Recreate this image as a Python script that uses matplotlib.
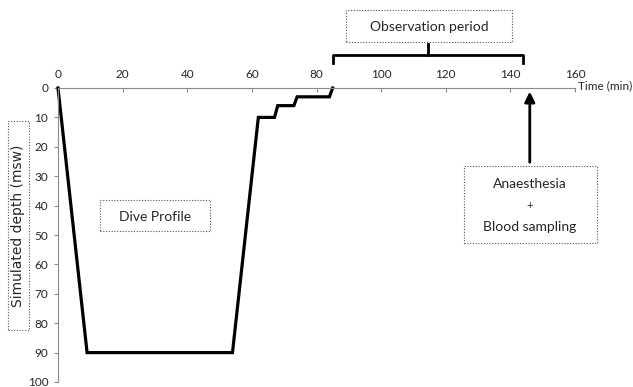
import matplotlib
matplotlib.use("Agg")
import matplotlib.pyplot as plt
from matplotlib.patches import Rectangle
from matplotlib.lines import Line2D

# Data
time_min = [0, 9, 54, 62, 67, 68, 73, 74, 84, 85]
depth_msw = [0, 90, 90, 10, 10, 6, 6, 3, 3, 0]
x_ticks = [0, 20, 40, 60, 80, 100, 120, 140, 160]
y_ticks = [0, 10, 20, 30, 40, 50, 60, 70, 80, 90, 100]
obs_start, obs_end = 85, 144
sampling_time = 146

W, H = 633, 387
fig = plt.figure(figsize=(W / 100, H / 100), dpi=100)
plt.rcParams['font.family'] = ['Lato', 'DejaVu Sans']
TXT = '#262626'
AX = '#8c8c8c'

def fx(x):
    return x / W

def fy(y):
    return 1 - y / H

left, right, top, bottom = 58, 575, 88, 382
ax = fig.add_axes([fx(left), fy(bottom), fx(right) - fx(left), fy(top) - fy(bottom)])
ax.plot(time_min, depth_msw, color='black', lw=2.3, solid_joinstyle='miter', clip_on=False)
ax.set_xlim(0, 160)
ax.set_ylim(100, 0)
ax.set_xticks(x_ticks)
ax.set_yticks(y_ticks)
ax.xaxis.tick_top()
ax.tick_params(axis='x', direction='in', length=3, color=AX, labelsize=8.5, labelcolor=TXT, pad=6)
ax.tick_params(axis='y', direction='out', length=3, color=AX, labelsize=8.5, labelcolor=TXT, pad=4)
for s in ['bottom', 'right']:
    ax.spines[s].set_visible(False)
for s in ['top', 'left']:
    ax.spines[s].set_color(AX)
    ax.spines[s].set_linewidth(0.8)
ax.patch.set_visible(False)

# x-axis title
fig.text(fx(578), fy(86), 'Time (min)', ha='left', va='center', fontsize=8.5, color=TXT)

# y-axis title with dotted box
fig.text(fx(18), fy(226), 'Simulated depth (msw)', rotation=90, ha='center', va='center',
         fontsize=10, color=TXT, family=['DejaVu Sans'])
def dotted_box(x0, y0, x1, y1):
    fig.patches.append(Rectangle((fx(x0), fy(y1)), fx(x1) - fx(x0), fy(y0) - fy(y1),
                                 transform=fig.transFigure, fill=False, ls=(0, (1, 1.5)),
                                 lw=0.8, ec='#555555'))
dotted_box(8, 121, 29, 330)

# Observation period bracket
by_top, by_bot = -11.2, -8.5
ax.add_line(Line2D([obs_start, obs_start, obs_end, obs_end], [by_bot, by_top, by_top, by_bot],
                   color='black', lw=2, clip_on=False))
mid = (obs_start + obs_end) / 2
ax.add_line(Line2D([mid, mid], [by_top, -14.8], color='black', lw=2, clip_on=False))
dotted_box(346, 10, 512, 42)
fig.text(fx(429), fy(27), 'Observation period', ha='center', va='center', fontsize=10, color=TXT)

# Arrow for anaesthesia
ax.annotate('', xy=(sampling_time, 0.3), xytext=(sampling_time, 26.2),
            arrowprops=dict(arrowstyle='-|>,head_length=0.6,head_width=0.3', color='black', lw=2),
            annotation_clip=False)
dotted_box(464, 166, 597, 243)
fig.text(fx(530), fy(184), 'Anaesthesia', ha='center', va='center', fontsize=10, color=TXT)
fig.text(fx(530), fy(205), '+', ha='center', va='center', fontsize=8, color=TXT)
fig.text(fx(530), fy(227), 'Blood sampling', ha='center', va='center', fontsize=10, color=TXT)

# Dive profile label
dotted_box(100, 200, 210, 231)
fig.text(fx(155), fy(217), 'Dive Profile', ha='center', va='center', fontsize=10, color=TXT)

fig.savefig('out.png', dpi=100)
